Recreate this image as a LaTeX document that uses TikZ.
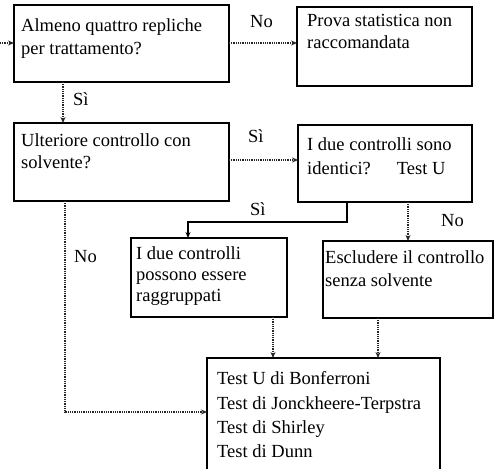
\documentclass[tikz,border=0pt]{standalone}
\usepackage{fontspec}
\setmainfont{Liberation Serif}
\usetikzlibrary{arrows.meta}
\tikzset{
  box/.style={draw=black, line width=1.2pt, rectangle},
  txt/.style={anchor=base west, inner sep=0pt, font=\fontsize{18.5}{23}\selectfont},
  lbl/.style={anchor=base west, inner sep=0pt, font=\fontsize{18.5}{23}\selectfont},
  dotarrow/.style={draw=black!85, dash pattern=on 1pt off 0.8pt, line width=1.2pt, -{Stealth[length=6pt,width=5pt]}},
  solidarrow/.style={draw=black, line width=1.1pt, -{Stealth[length=6pt,width=5pt]}},
}
\begin{document}
\begin{tikzpicture}[x=1pt,y=-1pt]
\useasboundingbox (0,0) rectangle (494,468);
% boxes
\draw[box] (14,5) rectangle (229,82);
\coordinate (b1w) at (14,43); \coordinate (b1e) at (229,43); \coordinate (b1s) at (63,82);
\draw[box] (297,7) rectangle (472,86);
\coordinate (b2w) at (297,43);
\draw[box] (14,123) rectangle (229,201);
\coordinate (b3n) at (63,123); \coordinate (b3e) at (229,160); \coordinate (b3s) at (65,201);
\draw[box] (298,125) rectangle (472,202);
\coordinate (b4w) at (298,160); \coordinate (b4sa) at (347,202); \coordinate (b4sb) at (408,202);
\draw[box] (131,238) rectangle (287,317);
\coordinate (b5n) at (188,238); \coordinate (b5s) at (273,317);
\draw[box] (323,241) rectangle (493,318);
\coordinate (b6n) at (408,241); \coordinate (b6s) at (378,318);
\draw[box] (207,358) rectangle (440,490);
\coordinate (b7w) at (207,412); \coordinate (b7na) at (273,358); \coordinate (b7nb) at (378,358);
% texts
\node[txt] (t1a) at (21,32) {Almeno quattro repliche};
\node[txt] (t1b) at (21,55) {per trattamento?};
\node[txt] (t2a) at (307,27) {Prova statistica non};
\node[txt] (t2b) at (307,49) {raccomandata};
\node[txt] (t3a) at (21,146) {Ulteriore controllo con};
\node[txt] (t3b) at (21,168) {solvente?};
\node[txt] (t4a) at (307,150) {I due controlli sono};
\node[txt] (t4b) at (307,174) {identici?\hspace*{26pt}Test U};
\node[txt] (t5a) at (136,259) {I due controlli};
\node[txt] (t5b) at (136,280) {possono essere};
\node[txt] (t5c) at (136,301) {raggruppati};
\node[txt] (t6a) at (325,263) {Escludere il controllo};
\node[txt] (t6b) at (325,286) {senza solvente};
\node[txt] (t7a) at (217,384) {Test U di Bonferroni};
\node[txt] (t7b) at (217,409) {Test di Jonckheere-Terpstra};
\node[txt] (t7c) at (217,433) {Test di Shirley};
\node[txt] (t7d) at (217,457) {Test di Dunn};
% connectors
\coordinate (start) at (0,43);
\draw[dotarrow] (start) -- (b1w);
\draw[dotarrow] (b1e) -- (b2w);
\node[lbl] (lno1) at (250,28) {No};
\draw[dotarrow] (b1s) -- (b3n);
\node[lbl] (lsi1) at (73,106) {Sì};
\draw[dotarrow] (b3e) -- (b4w);
\node[lbl] (lsi2) at (248,142) {Sì};
\draw[solidarrow] (b4sa) |- (220,222) -| (b5n);
\node[lbl] (lsi3) at (250,215) {Sì};
\draw[dotarrow] (b4sb) -- (b6n);
\node[lbl] (lno2) at (441,226) {No};
\draw[dotarrow] (b3s) |- (b7w);
\node[lbl] (lno3) at (74,262) {No};
\draw[dotarrow] (b5s) -- (b7na);
\draw[dotarrow] (b6s) -- (b7nb);
\end{tikzpicture}
\end{document}
